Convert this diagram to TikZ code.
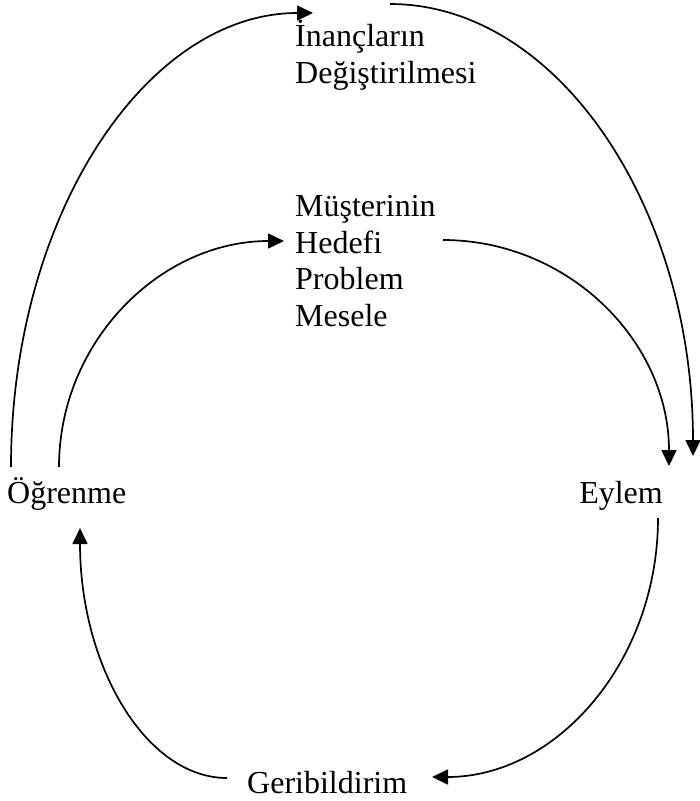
\documentclass[tikz,border=0pt]{standalone}
\usepackage{fontspec}
\setmainfont{Liberation Serif}
\usetikzlibrary{arrows.meta}
\begin{document}
\begin{tikzpicture}[x=1pt,y=-1pt,
  label/.style={anchor=base west,inner sep=0pt,align=left,
    font=\fontsize{32}{36.5}\selectfont},
  arr/.style={line width=1.7pt,-{Triangle[length=16pt,width=15pt]}}]
\useasboundingbox (0,0) rectangle (700,801);

% text blocks (base anchor of a multi-line node sits on its last line)
\node[label] (belief) at (295,83) {İnançların\\Değiştirilmesi};
\node[label] (goal) at (295,326) {Müşterinin\\Hedefi\\Problem\\Mesele};
\node[label] (learn) at (7,503) {Öğrenme};
\node[label,anchor=base east] (action) at (663,503) {Eylem};
\node[label] (feedback) at (247,793) {Geribildirim};

% outer loop: learning changes beliefs, which drive action
\draw[arr] ([shift={(4,-36)}]learn.base west)
  .. controls (11,216) and (146,13) .. ([shift={(18,-70)}]belief.base west);
\draw[arr] ([shift={(95,-79)}]belief.base west)
  .. controls (557,4) and (693,206) .. ([shift={(30,-47)}]action.base east);

% inner loop through the client's goal
\draw[arr] ([shift={(52,-36)}]learn.base west)
  .. controls (59,342) and (160,241) .. ([shift={(-11,-85)}]goal.base west);
\draw[arr] ([shift={(148,-86)}]goal.base west)
  .. controls (568,240) and (669,341) .. ([shift={(6,-37)}]action.base east);

% feedback cycle
\draw[arr] ([shift={(-5,15)}]action.base east)
  .. controls (658,661) and (557,777) .. ([shift={(185,-16)}]feedback.base west);
\draw[arr] ([shift={(-20,-15)}]feedback.base west)
  .. controls (146,778) and (80,666) .. ([shift={(73,25)}]learn.base west);
\end{tikzpicture}
\end{document}
